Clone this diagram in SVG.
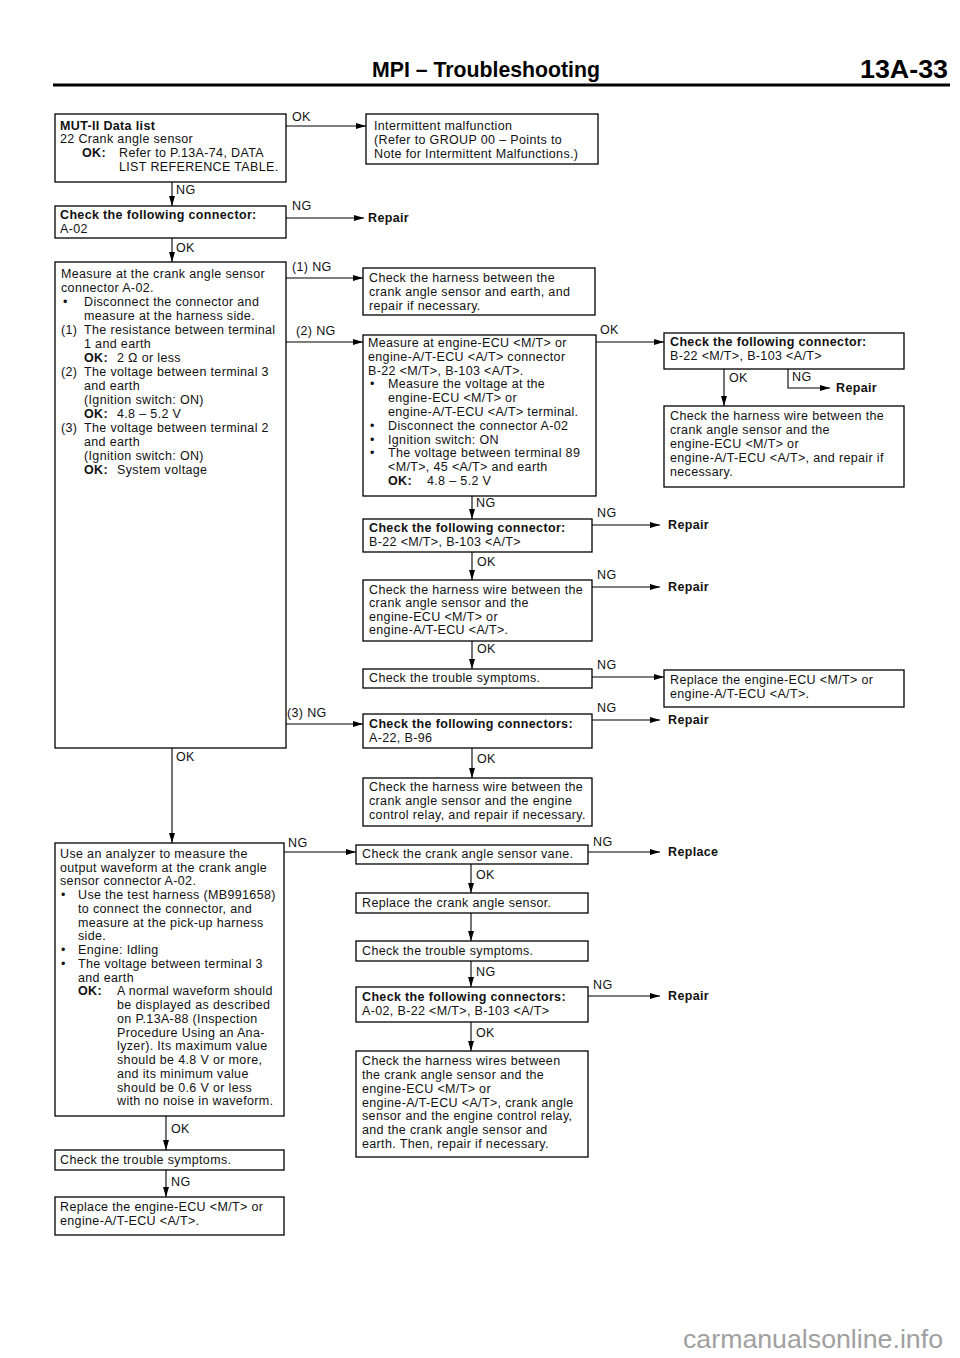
<svg xmlns="http://www.w3.org/2000/svg" width="960" height="1358" viewBox="0 0 960 1358">
<style>
.bg{fill:#fff}
.b{fill:#fff;stroke:#000;stroke-width:1.3}
.t{font-family:"Liberation Sans",Arial,sans-serif;font-size:12.5px;letter-spacing:0.35px;fill:#111}
.bd{font-weight:bold}
.c{stroke:#000;stroke-width:1.1;fill:none}
.a{marker-end:url(#ah)}
.h{font-family:"Liberation Sans",Arial,sans-serif;font-weight:bold;fill:#000}
.wm{font-family:"Liberation Sans",Arial,sans-serif;font-size:26px;fill:#a0a0a0}
</style>
<defs>
<marker id="ah" markerUnits="userSpaceOnUse" markerWidth="10" markerHeight="6" refX="10" refY="3" orient="auto">
<path d="M0,0 L10,3 L0,6 z" fill="#000"/>
</marker>
</defs>
<rect class="bg" x="0" y="0" width="960" height="1358"/>
<g id="header">
<text class="h" x="372" y="77" font-size="22" textLength="228" lengthAdjust="spacingAndGlyphs">MPI – Troubleshooting</text>
<text class="h" x="860" y="78" font-size="25" textLength="88" lengthAdjust="spacingAndGlyphs">13A-33</text>
<line x1="53" y1="85" x2="950" y2="85" stroke="#000" stroke-width="3"/>
</g>
<g id="connectors" class="t">
<path class="c a" d="M286,126 H366"/><text x="292" y="121">OK</text>
<path class="c a" d="M172,182 V206"/><text x="176" y="194">NG</text>
<path class="c a" d="M286,218 H364"/><text x="292" y="210">NG</text><text class="bd" x="368" y="222">Repair</text>
<path class="c a" d="M172,238 V262"/><text x="176" y="252">OK</text>
<path class="c a" d="M286,278 H363"/><text x="292" y="271">(1) NG</text>
<path class="c a" d="M286,342 H363"/><text x="296" y="335">(2) NG</text>
<path class="c a" d="M596,342 H664"/><text x="600" y="334">OK</text>
<path class="c a" d="M724,369 V406"/><text x="729" y="382">OK</text>
<path class="c a" d="M788,369 V388 H830"/><text x="792" y="381">NG</text><text class="bd" x="836" y="392">Repair</text>
<path class="c a" d="M472,496 V519"/><text x="476" y="507">NG</text>
<path class="c a" d="M592,525 H660"/><text x="597" y="517">NG</text><text class="bd" x="668" y="529">Repair</text>
<path class="c a" d="M472,552 V580"/><text x="477" y="566">OK</text>
<path class="c a" d="M592,587 H660"/><text x="597" y="579">NG</text><text class="bd" x="668" y="591">Repair</text>
<path class="c a" d="M472,641 V669"/><text x="477" y="653">OK</text>
<path class="c a" d="M592,677 H664"/><text x="597" y="669">NG</text>
<path class="c a" d="M286,724 H363"/><text x="287" y="717">(3) NG</text>
<path class="c a" d="M592,720 H660"/><text x="597" y="712">NG</text><text class="bd" x="668" y="724">Repair</text>
<path class="c a" d="M472,748 V778"/><text x="477" y="763">OK</text>
<path class="c a" d="M172,748 V843"/><text x="176" y="761">OK</text>
<path class="c a" d="M284,852 H356"/><text x="288" y="847">NG</text>
<path class="c a" d="M588,852 H660"/><text x="593" y="846">NG</text><text class="bd" x="668" y="856">Replace</text>
<path class="c a" d="M471,864 V893"/><text x="476" y="879">OK</text>
<path class="c a" d="M471,913 V941"/>
<path class="c a" d="M471,961 V987"/><text x="476" y="976">NG</text>
<path class="c a" d="M588,996 H660"/><text x="593" y="989">NG</text><text class="bd" x="668" y="1000">Repair</text>
<path class="c a" d="M471,1022 V1051"/><text x="476" y="1037">OK</text>
<path class="c a" d="M166,1116 V1150"/><text x="171" y="1133">OK</text>
<path class="c a" d="M166,1170 V1197"/><text x="171" y="1186">NG</text>
</g>
<g id="n-mut" class="t">
<rect class="b" x="55" y="114" width="231" height="68"/>
<text class="bd" x="60" y="130">MUT-II Data list</text>
<text x="60" y="143">22 Crank angle sensor</text>
<text class="bd" x="82" y="157">OK:</text><text x="119" y="157">Refer to P.13A-74, DATA</text>
<text x="119" y="171">LIST REFERENCE TABLE.</text>
</g>
<g id="n-intermittent" class="t">
<rect class="b" x="366" y="114" width="232" height="50"/>
<text x="374" y="130">Intermittent malfunction</text>
<text x="374" y="144">(Refer to GROUP 00 – Points to</text>
<text x="374" y="158">Note for Intermittent Malfunctions.)</text>
</g>
<g id="n-conn-a02" class="t">
<rect class="b" x="55" y="206" width="231" height="32"/>
<text class="bd" x="60" y="219">Check the following connector:</text>
<text x="60" y="233">A-02</text>
</g>
<g id="n-measure-sensor" class="t">
<rect class="b" x="55" y="262" width="231" height="486"/>
<text x="61" y="278">Measure at the crank angle sensor</text>
<text x="61" y="292">connector A-02.</text>
<text x="63" y="306">•</text><text x="84" y="306">Disconnect the connector and</text>
<text x="84" y="320">measure at the harness side.</text>
<text x="61" y="334">(1)</text><text x="84" y="334">The resistance between terminal</text>
<text x="84" y="348">1 and earth</text>
<text class="bd" x="84" y="362">OK:</text><text x="117" y="362">2 Ω or less</text>
<text x="61" y="376">(2)</text><text x="84" y="376">The voltage between terminal 3</text>
<text x="84" y="390">and earth</text>
<text x="84" y="404">(Ignition switch: ON)</text>
<text class="bd" x="84" y="418">OK:</text><text x="117" y="418">4.8 – 5.2 V</text>
<text x="61" y="432">(3)</text><text x="84" y="432">The voltage between terminal 2</text>
<text x="84" y="446">and earth</text>
<text x="84" y="460">(Ignition switch: ON)</text>
<text class="bd" x="84" y="474">OK:</text><text x="117" y="474">System voltage</text>
</g>
<g id="n-harness-earth" class="t">
<rect class="b" x="363" y="268" width="232" height="47"/>
<text x="369" y="282">Check the harness between the</text>
<text x="369" y="296">crank angle sensor and earth, and</text>
<text x="369" y="310">repair if necessary.</text>
</g>
<g id="n-measure-ecu" class="t">
<rect class="b" x="363" y="335" width="233" height="161"/>
<text x="368" y="347">Measure at engine-ECU &lt;M/T&gt; or</text>
<text x="368" y="361">engine-A/T-ECU &lt;A/T&gt; connector</text>
<text x="368" y="375">B-22 &lt;M/T&gt;, B-103 &lt;A/T&gt;.</text>
<text x="370" y="388">•</text><text x="388" y="388">Measure the voltage at the</text>
<text x="388" y="402">engine-ECU &lt;M/T&gt; or</text>
<text x="388" y="416">engine-A/T-ECU &lt;A/T&gt; terminal.</text>
<text x="370" y="430">•</text><text x="388" y="430">Disconnect the connector A-02</text>
<text x="370" y="444">•</text><text x="388" y="444">Ignition switch: ON</text>
<text x="370" y="457">•</text><text x="388" y="457">The voltage between terminal 89</text>
<text x="388" y="471">&lt;M/T&gt;, 45 &lt;A/T&gt; and earth</text>
<text class="bd" x="388" y="485">OK:</text><text x="427" y="485">4.8 – 5.2 V</text>
</g>
<g id="n-conn-b22-a" class="t">
<rect class="b" x="664" y="333" width="240" height="36"/>
<text class="bd" x="670" y="346">Check the following connector:</text>
<text x="670" y="360">B-22 &lt;M/T&gt;, B-103 &lt;A/T&gt;</text>
</g>
<g id="n-harness-ecu-a" class="t">
<rect class="b" x="664" y="406" width="240" height="81"/>
<text x="670" y="420">Check the harness wire between the</text>
<text x="670" y="434">crank angle sensor and the</text>
<text x="670" y="448">engine-ECU &lt;M/T&gt; or</text>
<text x="670" y="462">engine-A/T-ECU &lt;A/T&gt;, and repair if</text>
<text x="670" y="476">necessary.</text>
</g>
<g id="n-conn-b22-b" class="t">
<rect class="b" x="363" y="519" width="229" height="33"/>
<text class="bd" x="369" y="532">Check the following connector:</text>
<text x="369" y="546">B-22 &lt;M/T&gt;, B-103 &lt;A/T&gt;</text>
</g>
<g id="n-harness-ecu-b" class="t">
<rect class="b" x="363" y="580" width="229" height="61"/>
<text x="369" y="594">Check the harness wire between the</text>
<text x="369" y="607">crank angle sensor and the</text>
<text x="369" y="621">engine-ECU &lt;M/T&gt; or</text>
<text x="369" y="634">engine-A/T-ECU &lt;A/T&gt;.</text>
</g>
<g id="n-symptoms-a" class="t">
<rect class="b" x="363" y="669" width="229" height="19"/>
<text x="369" y="682">Check the trouble symptoms.</text>
</g>
<g id="n-replace-ecu-a" class="t">
<rect class="b" x="664" y="670" width="240" height="37"/>
<text x="670" y="684">Replace the engine-ECU &lt;M/T&gt; or</text>
<text x="670" y="698">engine-A/T-ECU &lt;A/T&gt;.</text>
</g>
<g id="n-conn-a22" class="t">
<rect class="b" x="363" y="714" width="229" height="34"/>
<text class="bd" x="369" y="728">Check the following connectors:</text>
<text x="369" y="742">A-22, B-96</text>
</g>
<g id="n-harness-relay" class="t">
<rect class="b" x="363" y="778" width="229" height="48"/>
<text x="369" y="791">Check the harness wire between the</text>
<text x="369" y="805">crank angle sensor and the engine</text>
<text x="369" y="819">control relay, and repair if necessary.</text>
</g>
<g id="n-analyzer" class="t">
<rect class="b" x="55" y="843" width="229" height="273"/>
<text x="60" y="858">Use an analyzer to measure the</text>
<text x="60" y="872">output waveform at the crank angle</text>
<text x="60" y="885">sensor connector A-02.</text>
<text x="61" y="899">•</text><text x="78" y="899">Use the test harness (MB991658)</text>
<text x="78" y="913">to connect the connector, and</text>
<text x="78" y="927">measure at the pick-up harness</text>
<text x="78" y="940">side.</text>
<text x="61" y="954">•</text><text x="78" y="954">Engine: Idling</text>
<text x="61" y="968">•</text><text x="78" y="968">The voltage between terminal 3</text>
<text x="78" y="982">and earth</text>
<text class="bd" x="78" y="995">OK:</text><text x="117" y="995">A normal waveform should</text>
<text x="117" y="1009">be displayed as described</text>
<text x="117" y="1023">on P.13A-88 (Inspection</text>
<text x="117" y="1037">Procedure Using an Ana-</text>
<text x="117" y="1050">lyzer). Its maximum value</text>
<text x="117" y="1064">should be 4.8 V or more,</text>
<text x="117" y="1078">and its minimum value</text>
<text x="117" y="1092">should be 0.6 V or less</text>
<text x="117" y="1105">with no noise in waveform.</text>
</g>
<g id="n-symptoms-b" class="t">
<rect class="b" x="55" y="1150" width="229" height="20"/>
<text x="60" y="1164">Check the trouble symptoms.</text>
</g>
<g id="n-replace-ecu-b" class="t">
<rect class="b" x="55" y="1197" width="229" height="38"/>
<text x="60" y="1211">Replace the engine-ECU &lt;M/T&gt; or</text>
<text x="60" y="1225">engine-A/T-ECU &lt;A/T&gt;.</text>
</g>
<g id="n-vane" class="t">
<rect class="b" x="356" y="845" width="232" height="19"/>
<text x="362" y="858">Check the crank angle sensor vane.</text>
</g>
<g id="n-replace-sensor" class="t">
<rect class="b" x="356" y="893" width="232" height="20"/>
<text x="362" y="907">Replace the crank angle sensor.</text>
</g>
<g id="n-symptoms-c" class="t">
<rect class="b" x="356" y="941" width="232" height="20"/>
<text x="362" y="955">Check the trouble symptoms.</text>
</g>
<g id="n-conn-a02-b22" class="t">
<rect class="b" x="356" y="987" width="232" height="35"/>
<text class="bd" x="362" y="1001">Check the following connectors:</text>
<text x="362" y="1015">A-02, B-22 &lt;M/T&gt;, B-103 &lt;A/T&gt;</text>
</g>
<g id="n-harness-all" class="t">
<rect class="b" x="356" y="1051" width="232" height="106"/>
<text x="362" y="1065">Check the harness wires between</text>
<text x="362" y="1079">the crank angle sensor and the</text>
<text x="362" y="1093">engine-ECU &lt;M/T&gt; or</text>
<text x="362" y="1107">engine-A/T-ECU &lt;A/T&gt;, crank angle</text>
<text x="362" y="1120">sensor and the engine control relay,</text>
<text x="362" y="1134">and the crank angle sensor and</text>
<text x="362" y="1148">earth. Then, repair if necessary.</text>
</g>
<text class="wm" x="683" y="1348" textLength="260" lengthAdjust="spacingAndGlyphs">carmanualsonline.info</text>
</svg>
